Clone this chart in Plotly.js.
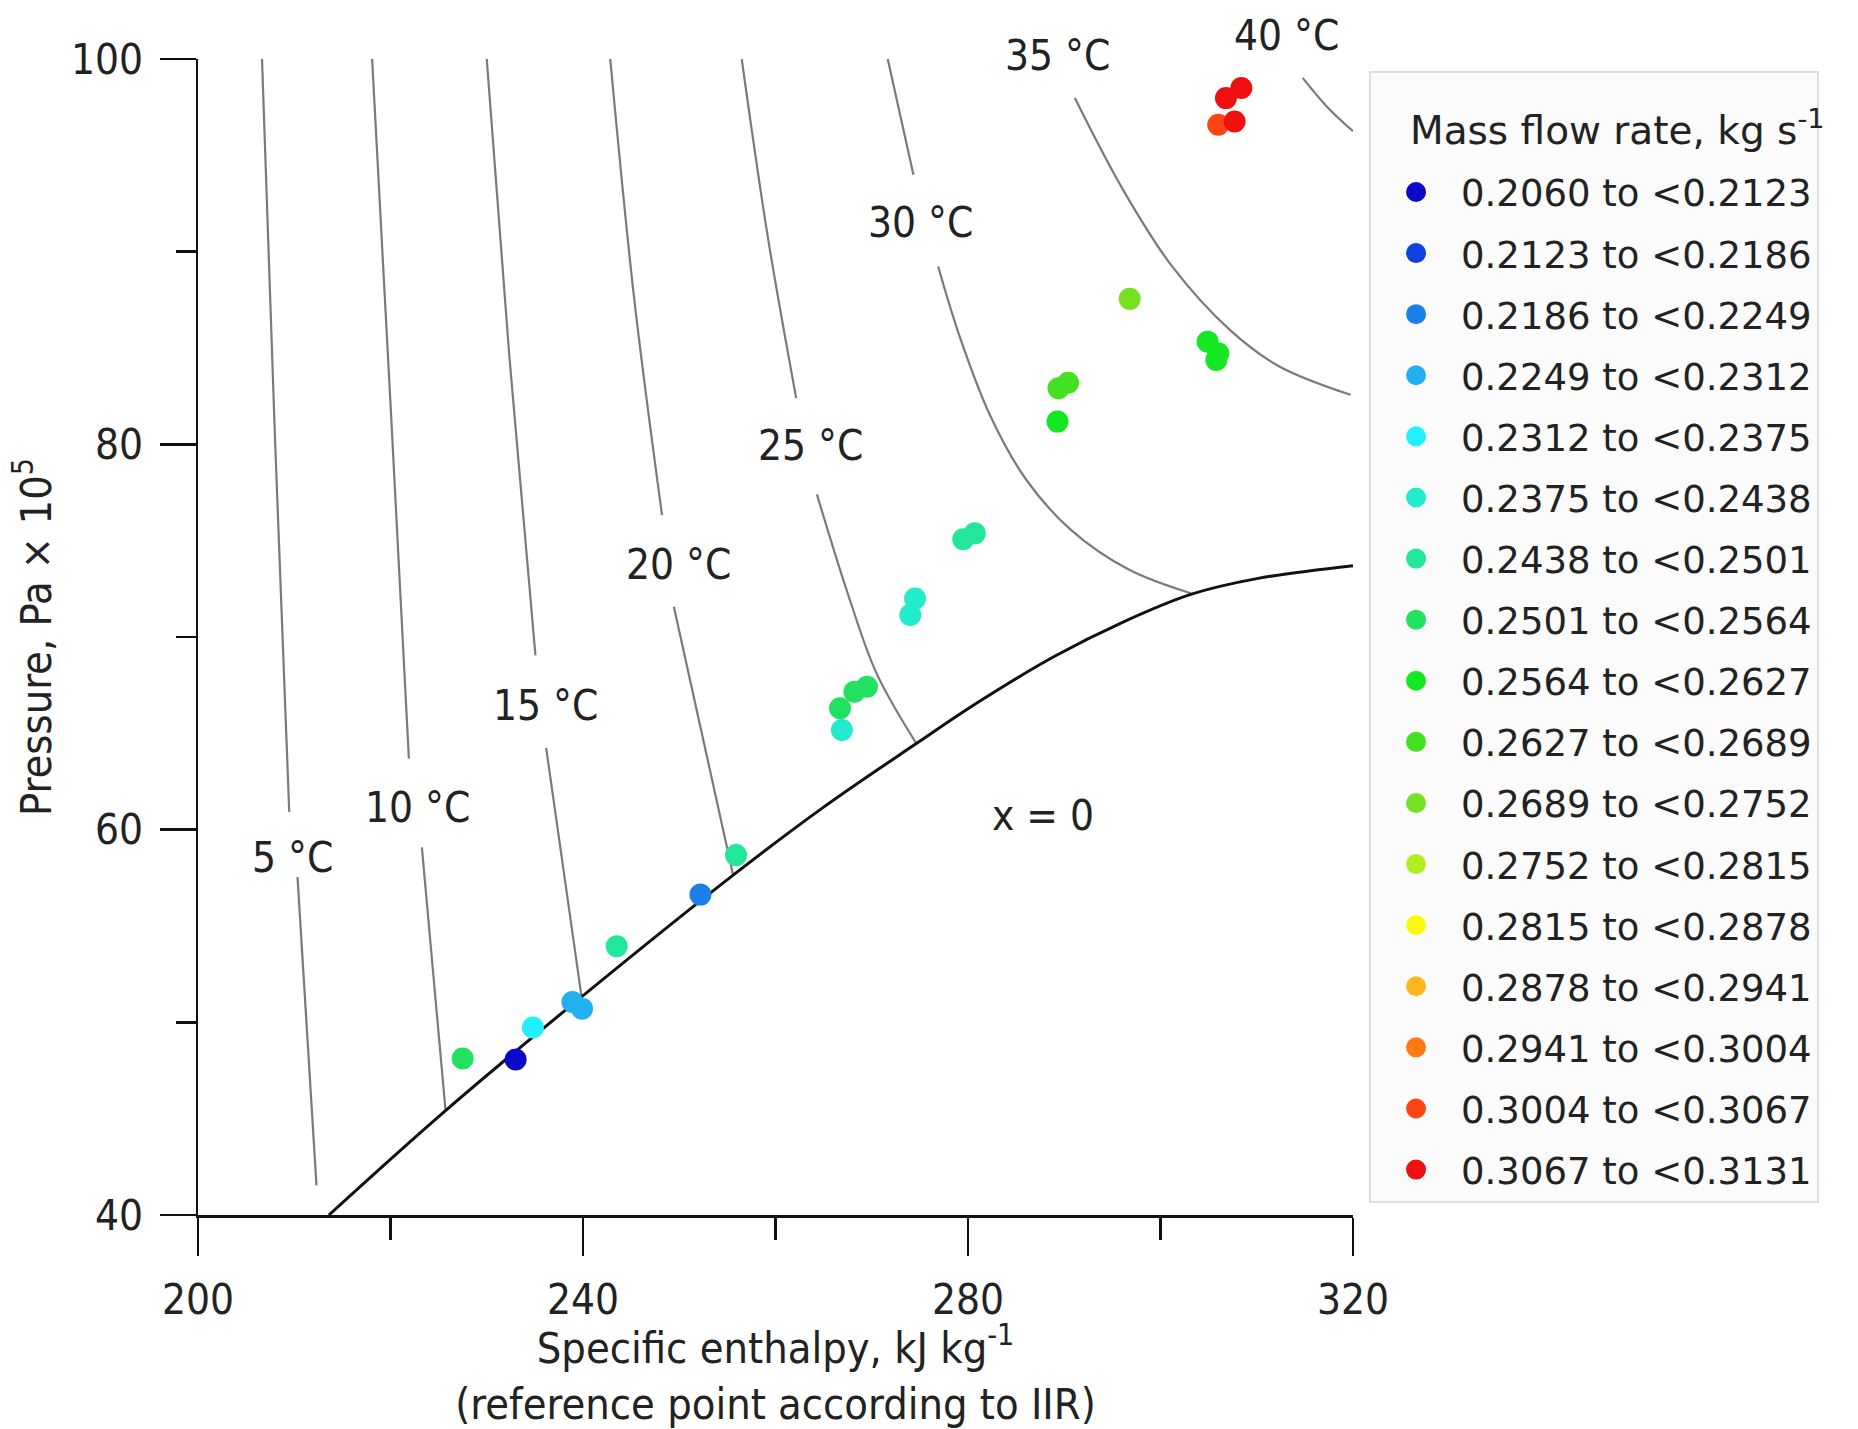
<!DOCTYPE html>
<html>
<head>
<meta charset="utf-8">
<script src="https://cdn.plot.ly/plotly-3.0.1.min.js"></script>
<style>html,body{margin:0;padding:0;background:#fff;}#chart{width:1858px;height:1429px;}</style>
</head>
<body>
<div id="chart"></div>
<script>
// ---- Legend classes (mass flow rate, kg/s) ----
const classLabels = [
  "0.2060 to <0.2123","0.2123 to <0.2186","0.2186 to <0.2249","0.2249 to <0.2312",
  "0.2312 to <0.2375","0.2375 to <0.2438","0.2438 to <0.2501","0.2501 to <0.2564",
  "0.2564 to <0.2627","0.2627 to <0.2689","0.2689 to <0.2752","0.2752 to <0.2815",
  "0.2815 to <0.2878","0.2878 to <0.2941","0.2941 to <0.3004","0.3004 to <0.3067",
  "0.3067 to <0.3131"
];
const classColors = [
  "#0a0ac8","#1040e0","#1a80e8","#22b0f0","#22f0ff","#22eccc","#22e69a","#22e060",
  "#14e822","#44e022","#77e022","#b0f022","#f8f810","#ffb420","#ff7a14","#ff4414",
  "#ee1010"
];
const legendTitle = "Mass flow rate, kg s<sup>-1</sup>";

// ---- Measured points: specific enthalpy (kJ/kg), pressure (bar), class index ----
const pointEnthalpy = [233.0, 252.2, 238.9, 239.9, 234.8, 274.5, 274.0, 266.9, 243.5, 255.9, 279.5, 280.7,
  227.5, 269.5, 268.2, 266.7, 289.3, 304.9, 306.0, 305.8, 289.4, 290.4, 296.8, 306.0, 308.4, 306.8, 307.7];
const pointPressure = [48.07, 56.63, 51.06, 50.71, 49.73, 72.0, 71.14, 65.17, 53.95, 58.68, 75.07, 75.38,
  48.12, 67.42, 67.16, 66.3, 81.18, 85.33, 84.73, 84.38, 82.91, 83.2, 87.55, 96.59, 98.49, 97.97, 96.76];
const pointClass = [0, 2, 3, 3, 4, 5, 5, 5, 6, 6, 6, 6,
  7, 7, 7, 7, 8, 8, 8, 8, 9, 9, 10, 15, 16, 16, 16];

// ---- Saturated liquid line (x = 0) ----
const satH = [213.6, 225.72, 239.85, 255.6, 265.0, 274.63, 281.0, 289.0, 296.0, 303.14, 310.0, 320.0];
const satP = [40.0, 45.42, 51.32, 57.64, 61.17, 64.47, 66.6, 69.0, 70.75, 72.21, 73.03, 73.7];

// ---- Isotherms (null = gap left for the label) ----
const iso5H  = [206.65, 208.0, 209.48, null, 210.34, 212.31];
const iso5P  = [100, 80.3, 60.92, null, 57.54, 41.54];
const iso10H = [218.09, 220.06, 221.91, null, 223.26, 225.72];
const iso10P = [100, 81.54, 63.69, null, 59.08, 45.42];
const iso15H = [230.0, 232.34, 235.06, null, 236.17, 239.85];
const iso15P = [100, 84.62, 69.05, null, 64.25, 51.32];
const iso20H = [242.83, 245.29, 248.21, null, 249.44, 255.6];
const iso20P = [100, 87.69, 76.33, null, 71.57, 57.64];
const iso25H = [256.49, 259.2, 262.15, null, 264.3, 267.73, 270.5, 274.63];
const iso25P = [100, 90.77, 82.4, null, 77.4, 71.92, 68.11, 64.47];
const iso30H = [271.66, 274.33, null, 276.9, 279.2, 282.3, 286.0, 290.6, 296.7, 303.14];
const iso30P = [100, 93.99, null, 89.23, 85.5, 81.5, 78.2, 75.6, 73.5, 72.27];
const iso35H = [291.1, 296.14, 301.17, 307.2, 312.25, 319.75];
const iso35P = [97.97, 93.18, 89.26, 85.94, 84.07, 82.57];
const iso40H = [314.77, 317.27, 320.0];
const iso40P = [99.02, 97.54, 96.25];

// ---- Text labels on the chart ----
const labelText = ["5 °C","10 °C","15 °C","20 °C","25 °C","30 °C","35 °C","40 °C","x = 0"];
const labelH = [209.85, 222.77, 236.06, 249.92, 263.63, 275.08, 289.35, 313.11, 287.75];
const labelP = [58.58, 61.17, 66.46, 73.78, 79.94, 91.51, 100.18, 101.23, 60.74];

const xRange = [200, 320];
const yRange = [40, 100];

const narrow = "DejaVu Sans Condensed, Liberation Sans Narrow, sans-serif";
const wide = "DejaVu Sans, Verdana, sans-serif";

const traces = [];
const isoH = [iso5H, iso10H, iso15H, iso20H, iso25H, iso30H, iso35H, iso40H];
const isoP = [iso5P, iso10P, iso15P, iso20P, iso25P, iso30P, iso35P, iso40P];
for (let i = 0; i < isoH.length; i++) {
  traces.push({x: isoH[i], y: isoP[i], mode: "lines", type: "scatter", showlegend: false,
    hoverinfo: "skip", line: {color: "#7a7a7a", width: 2.2, shape: "spline", smoothing: 1}});
}
traces.push({x: satH, y: satP, mode: "lines", type: "scatter", showlegend: false, hoverinfo: "skip",
  line: {color: "#111", width: 3, shape: "spline", smoothing: 1}});

for (let c = 0; c < classLabels.length; c++) {
  const xs = [], ys = [];
  for (let k = 0; k < pointClass.length; k++) {
    if (pointClass[k] === c) { xs.push(pointEnthalpy[k]); ys.push(pointPressure[k]); }
  }
  traces.push({x: xs.length ? xs : [null], y: ys.length ? ys : [null], mode: "markers", type: "scatter",
    name: classLabels[c], legendgroup: "g" + c,
    marker: {color: classColors[c], size: 18, line: {color: classColors[c], width: 4}}});
}

const annotations = labelText.map((t, i) => {
  const above = labelP[i] > yRange[1];
  return {
    x: labelH[i], xref: "x",
    y: above ? (labelP[i] - yRange[0]) / (yRange[1] - yRange[0]) : labelP[i],
    yref: above ? "y domain" : "y",
    xanchor: "center", yanchor: "middle",
    text: t, showarrow: false,
    font: {family: narrow, size: 42, color: "#222"}
  };
});
// legend heading, placed inside the legend box
annotations.push({
  x: 1.0476, y: 0.9403, xref: "paper", yref: "paper", xanchor: "left", yanchor: "middle",
  text: legendTitle, showarrow: false,
  font: {family: wide, size: 39, color: "#222"}
});

const layout = {
  width: 1858, height: 1429,
  margin: {l: 198, r: 505, t: 59, b: 214},
  paper_bgcolor: "#fff", plot_bgcolor: "#fff",
  font: {family: narrow, color: "#222"},
  showlegend: true,
  xaxis: {
    range: xRange, tick0: 200, dtick: 40, showgrid: false, zeroline: false,
    showline: true, linecolor: "#111", linewidth: 2.5,
    ticks: "outside", ticklen: 38, tickwidth: 2.5, tickcolor: "#111",
    ticklabelstandoff: 8,
    tickfont: {family: narrow, size: 42, color: "#222"},
    minor: {dtick: 20, ticks: "outside", ticklen: 22, tickwidth: 2.5, tickcolor: "#111", showgrid: false},
    title: {text: "Specific enthalpy, kJ kg<sup>-1</sup><br>(reference point according to IIR)",
      font: {family: narrow, size: 43, color: "#222"}, standoff: 22},
    automargin: false
  },
  yaxis: {
    range: yRange, tick0: 40, dtick: 20, showgrid: false, zeroline: false,
    showline: true, linecolor: "#111", linewidth: 2.5,
    ticks: "outside", ticklen: 36, tickwidth: 2.5, tickcolor: "#111",
    ticklabelstandoff: 8,
    tickfont: {family: narrow, size: 42, color: "#222"},
    minor: {dtick: 10, ticks: "outside", ticklen: 20, tickwidth: 2.5, tickcolor: "#111", showgrid: false},
    title: {text: "Pressure, Pa × 10<sup>5</sup>", font: {family: narrow, size: 43, color: "#222"}, standoff: 6},
    automargin: false
  },
  legend: {
    x: 1.0139, y: 0.9896, xanchor: "left", yanchor: "top",
    bgcolor: "#fbfbfb", bordercolor: "#dedede", borderwidth: 2,
    font: {family: wide, size: 37, color: "#222"},
    title: {text: "\u00a0", font: {family: wide, size: 68, color: "#222"}},
    tracegroupgap: 10, itemwidth: 80
  },
  annotations: annotations
};

Plotly.newPlot("chart", traces, layout, {displayModeBar: false, staticPlot: true});
</script>
</body>
</html>
